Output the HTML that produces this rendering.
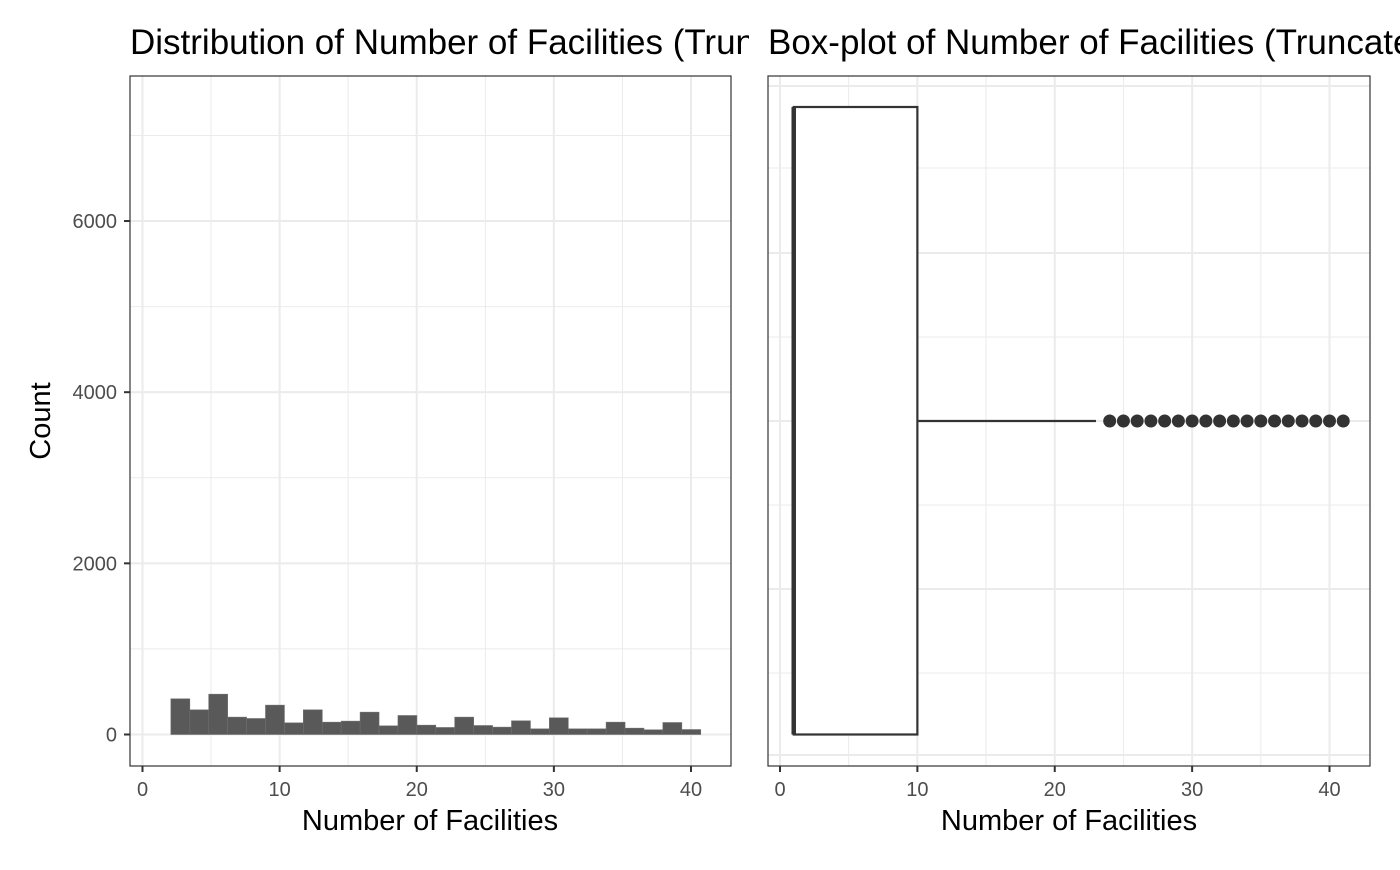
<!DOCTYPE html>
<html><head><meta charset="utf-8"><style>
html,body{margin:0;padding:0;background:#fff;}
svg text{font-family:"Liberation Sans",Arial,sans-serif;}
</style></head><body>
<svg id="chart" width="1400" height="865" xmlns="http://www.w3.org/2000/svg">
<defs>
<clipPath id="clipL"><rect x="0" y="0" width="749" height="865"/></clipPath>
<clipPath id="clipR"><rect x="760" y="0" width="640" height="865"/></clipPath>
</defs>
<g id="left"></g>
<g id="right"></g>
</svg>
<script>
const histBinStart = 2.07;
const histBinWidth = 1.38;
const histCounts = [417,288,471,203,187,343,136,288,144,156,261,101,222,109,82,203,105,86,160,66,195,66,66,144,74,55,140,58];
const xTicks = [0,10,20,30,40];
const yTicks = [0,2000,4000,6000];
const boxStats = {lower:1, q1:1, median:1, q3:10, whiskerHigh:23};
const outliers = [24,25,26,27,28,29,30,31,32,33,34,35,36,37,38,39,40,41];

const NS="http://www.w3.org/2000/svg";
function mk(parent,tag,attrs,text){const e=document.createElementNS(NS,tag);for(const k in attrs)e.setAttribute(k,attrs[k]);if(text!==undefined)e.textContent=text;parent.appendChild(e);return e;}

// Left panel
const L=document.getElementById('left');
const lx0=130,lx1=731,ty=76,by=766;
const hx=v=>142.5+v*(691-142.5)/40;
const hy=v=>734.5-v*0.08558;
mk(L,'rect',{x:lx0,y:ty,width:lx1-lx0,height:by-ty,fill:'#fff'});
[1000,3000,5000,7000].forEach(v=>mk(L,'line',{x1:lx0,x2:lx1,y1:hy(v),y2:hy(v),stroke:'#ebebeb','stroke-width':1}));
[5,15,25,35].forEach(v=>mk(L,'line',{y1:ty,y2:by,x1:hx(v),x2:hx(v),stroke:'#ebebeb','stroke-width':1}));
yTicks.forEach(v=>mk(L,'line',{x1:lx0,x2:lx1,y1:hy(v),y2:hy(v),stroke:'#ebebeb','stroke-width':2}));
xTicks.forEach(v=>mk(L,'line',{y1:ty,y2:by,x1:hx(v),x2:hx(v),stroke:'#ebebeb','stroke-width':2}));
histCounts.forEach((c,i)=>{
  const x=hx(histBinStart+i*histBinWidth), x2=hx(histBinStart+(i+1)*histBinWidth);
  const r=mk(L,'rect',{x:x,y:hy(c),width:x2-x,height:hy(0)-hy(c),fill:'#595959',stroke:'#6e6e6e','stroke-width':0.6});
  
  
});
mk(L,'rect',{x:lx0,y:ty,width:lx1-lx0,height:by-ty,fill:'none',stroke:'#333','stroke-width':1.2,});
xTicks.forEach(v=>{
  mk(L,'line',{x1:hx(v),x2:hx(v),y1:by,y2:by+6,stroke:'#333','stroke-width':2});
  const t=mk(L,'text',{x:hx(v),y:796,'font-size':20,fill:'#4d4d4d','text-anchor':'middle'},v);
  
  
});
yTicks.forEach(v=>{
  mk(L,'line',{x1:lx0-6,x2:lx0,y1:hy(v),y2:hy(v),stroke:'#333','stroke-width':2});
  const t=mk(L,'text',{x:lx0-13,y:hy(v)+7,'font-size':20,fill:'#4d4d4d','text-anchor':'end'},v);
  
  
});
mk(L,'text',{x:430,y:830,'font-size':29,fill:'#000','text-anchor':'middle',},'Number of Facilities');
mk(L,'text',{x:50,y:421,'font-size':29,fill:'#000','text-anchor':'middle',transform:'rotate(-90 50 421)',},'Count');
mk(L,'text',{x:130,y:54,'font-size':35,fill:'#000','clip-path':'url(#clipL)',},'Distribution of Number of Facilities (Truncated)');

// Right panel
const R=document.getElementById('right');
const rx0=768,rx1=1370;
const bx=v=>780+v*(1329.5-780)/40;
mk(R,'rect',{x:rx0,y:ty,width:rx1-rx0,height:by-ty,fill:'#fff'});
[168,337,505,673].forEach(y=>mk(R,'line',{x1:rx0,x2:rx1,y1:y,y2:y,stroke:'#ebebeb','stroke-width':1}));
[5,15,25,35].forEach(v=>mk(R,'line',{y1:ty,y2:by,x1:bx(v),x2:bx(v),stroke:'#ebebeb','stroke-width':1}));
[86,253,421,589,755].forEach(y=>mk(R,'line',{x1:rx0,x2:rx1,y1:y,y2:y,stroke:'#ebebeb','stroke-width':2}));
xTicks.forEach(v=>mk(R,'line',{y1:ty,y2:by,x1:bx(v),x2:bx(v),stroke:'#ebebeb','stroke-width':2}));
const cy=421;
mk(R,'line',{x1:bx(boxStats.q3),x2:bx(boxStats.whiskerHigh),y1:cy,y2:cy,stroke:'#333','stroke-width':2.2,});
mk(R,'rect',{x:bx(boxStats.q1),y:107,width:bx(boxStats.q3)-bx(boxStats.q1),height:734.5-107,fill:'#fff',stroke:'#333','stroke-width':2.2,});
mk(R,'line',{x1:bx(boxStats.median),x2:bx(boxStats.median),y1:107,y2:734.5,stroke:'#333','stroke-width':4.5,});
outliers.forEach(v=>{
  const c=mk(R,'circle',{cx:bx(v),cy:cy,r:6.5,fill:'#333'});
  
  
});
mk(R,'rect',{x:rx0,y:ty,width:rx1-rx0,height:by-ty,fill:'none',stroke:'#333','stroke-width':1.2,});
xTicks.forEach(v=>{
  mk(R,'line',{x1:bx(v),x2:bx(v),y1:by,y2:by+6,stroke:'#333','stroke-width':2});
  const t=mk(R,'text',{x:bx(v),y:796,'font-size':20,fill:'#4d4d4d','text-anchor':'middle'},v);
  
  
});
mk(R,'text',{x:1069,y:830,'font-size':29,fill:'#000','text-anchor':'middle',},'Number of Facilities');
mk(R,'text',{x:768,y:54,'font-size':35,fill:'#000','clip-path':'url(#clipR)',},'Box-plot of Number of Facilities (Truncated)');
</script>
</body></html>
